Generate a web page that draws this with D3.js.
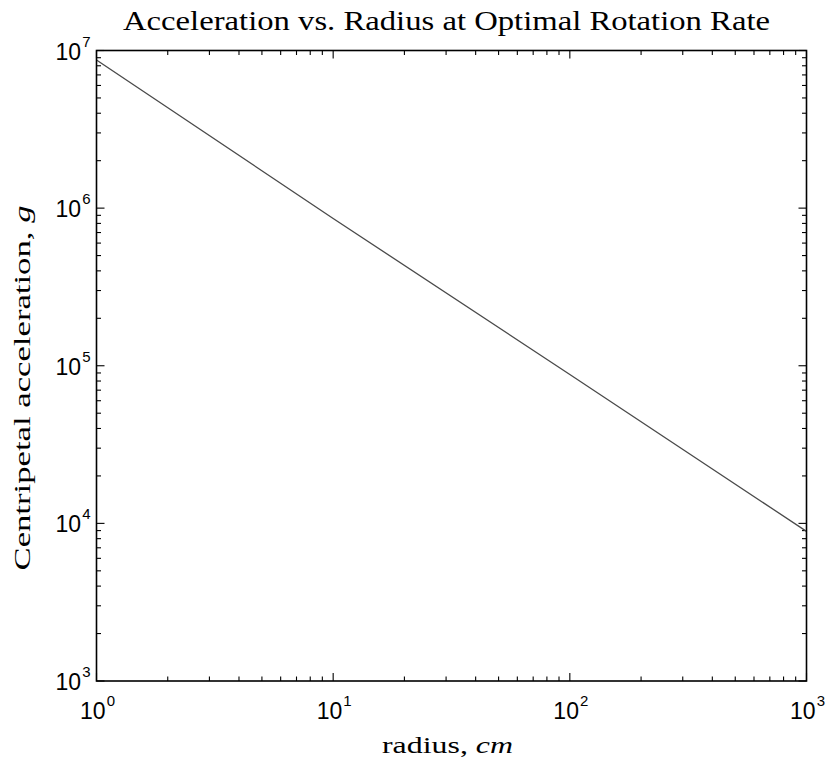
<!DOCTYPE html>
<html>
<head>
<meta charset="utf-8">
<script src="https://cdn.jsdelivr.net/npm/d3@7"></script>
<style>
  html, body { margin: 0; padding: 0; background: #fff; }
  svg { display: block; }
</style>
</head>
<body>
<svg id="chart" width="828" height="761"></svg>
<script>
// Radius (cm) and centripetal acceleration (g) at the optimal rotation rate
const radius = [1, 10, 100, 1000];
const acceleration = [8.7e6, 8.6e5, 8.8e4, 8.9e3];

const xTickExponents = [0, 1, 2, 3];
const yTickExponents = [3, 4, 5, 6, 7];

const titleText = "Acceleration vs. Radius at Optimal Rotation Rate";
const xLabelText = "radius, ";
const xLabelUnit = "cm";
const yLabelText = "Centripetal acceleration, ";
const yLabelUnit = "g";

const W = 828, H = 761;
const m = { left: 96.5, right: 806.5, top: 50.5, bottom: 681 };

const svg = d3.select("#chart");

const x = d3.scaleLog().domain([1, 1000]).range([m.left, m.right]);
const y = d3.scaleLog().domain([1e3, 1e7]).range([m.bottom, m.top]);

const serif = "'Liberation Serif', 'DejaVu Serif', serif";
const sans = "'Liberation Sans', Arial, sans-serif";

// minor tick values (2..9 in each decade)
function minorTicks(lo, hi) {
  const out = [];
  for (let e = lo; e < hi; e++) {
    for (let k = 2; k <= 9; k++) out.push(k * Math.pow(10, e));
  }
  return out;
}

const majorLen = 8, minorLen = 4.5;
const tickG = svg.append("g").attr("stroke", "#000").attr("stroke-width", 1.1);

// x ticks on bottom and top, pointing inward
const xMajor = xTickExponents.map(e => Math.pow(10, e));
const xMinor = minorTicks(0, 3);
[[xMajor, majorLen], [xMinor, minorLen]].forEach(([vals, len]) => {
  vals.forEach(v => {
    const px = x(v);
    tickG.append("line").attr("x1", px).attr("x2", px).attr("y1", m.bottom).attr("y2", m.bottom - len);
    tickG.append("line").attr("x1", px).attr("x2", px).attr("y1", m.top).attr("y2", m.top + len);
  });
});

// y ticks on left and right, pointing inward
const yMajor = yTickExponents.map(e => Math.pow(10, e));
const yMinor = minorTicks(3, 7);
[[yMajor, majorLen], [yMinor, minorLen]].forEach(([vals, len]) => {
  vals.forEach(v => {
    const py = y(v);
    tickG.append("line").attr("y1", py).attr("y2", py).attr("x1", m.left).attr("x2", m.left + len);
    tickG.append("line").attr("y1", py).attr("y2", py).attr("x1", m.right).attr("x2", m.right - len);
  });
});

// data line
const line = d3.line().x((d, i) => x(radius[i])).y(d => y(d));
svg.append("path")
  .datum(acceleration)
  .attr("d", line)
  .attr("fill", "none")
  .attr("stroke", "#4a4a4a")
  .attr("stroke-width", 1.3);

// frame
svg.append("rect")
  .attr("x", m.left).attr("y", m.top)
  .attr("width", m.right - m.left).attr("height", m.bottom - m.top)
  .attr("fill", "none").attr("stroke", "#000").attr("stroke-width", 1.6);

// power-of-ten tick labels
function powerLabel(g, px, py, exp, anchor) {
  const t = g.append("text")
    .attr("x", px).attr("y", py)
    .attr("text-anchor", anchor)
    .attr("font-family", sans)
    .attr("fill", "#000");
  t.append("tspan").attr("font-size", 23).text("10");
  t.append("tspan").attr("font-size", 15).attr("dx", 1).attr("dy", -13).text(exp);
  return t;
}

const labG = svg.append("g");
xTickExponents.forEach(e => powerLabel(labG, x(Math.pow(10, e)) + 1, m.bottom + 38, String(e), "middle"));
yTickExponents.forEach(e => powerLabel(labG, m.left - 6, y(Math.pow(10, e)) + 9, String(e), "end"));

// title
svg.append("text")
  .attr("x", 446.5).attr("y", 30)
  .attr("text-anchor", "middle")
  .attr("font-family", serif)
  .attr("font-size", 27)
  .attr("textLength", 647)
  .attr("lengthAdjust", "spacingAndGlyphs")
  .attr("fill", "#000")
  .text(titleText);

// x axis label
const xl = svg.append("text")
  .attr("x", 447.5).attr("y", 753)
  .attr("text-anchor", "middle")
  .attr("font-family", serif)
  .attr("font-size", 23)
  .attr("textLength", 131)
  .attr("lengthAdjust", "spacingAndGlyphs")
  .attr("fill", "#000");
xl.append("tspan").text(xLabelText);
xl.append("tspan").attr("font-style", "italic").text(xLabelUnit);

// y axis label
const yl = svg.append("text")
  .attr("transform", "translate(30,388) rotate(-90)")
  .attr("text-anchor", "middle")
  .attr("font-family", serif)
  .attr("font-size", 23)
  .attr("textLength", 365)
  .attr("lengthAdjust", "spacingAndGlyphs")
  .attr("fill", "#000");
yl.append("tspan").text(yLabelText);
yl.append("tspan").attr("font-style", "italic").text(yLabelUnit);
</script>
</body>
</html>
